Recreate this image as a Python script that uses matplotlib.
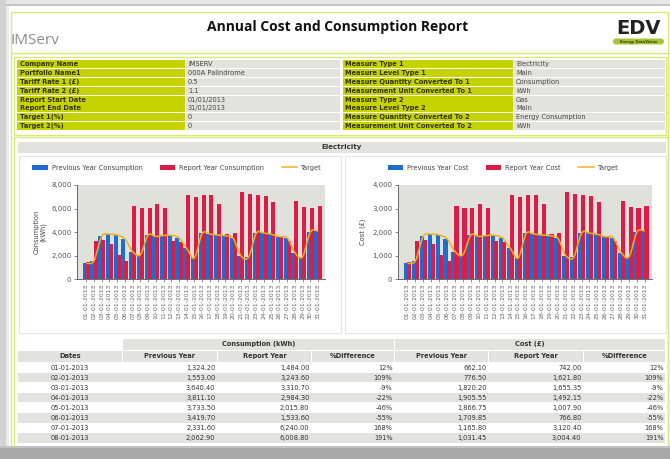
import matplotlib
matplotlib.use("Agg")
import matplotlib.pyplot as plt
from matplotlib.patches import Rectangle, FancyBboxPatch, PathPatch
from matplotlib.path import Path
from matplotlib.ticker import FuncFormatter
import numpy as np

W, H = 670, 459

# ---- report data ----
info_left_labels = ["Company Name", "Portfolio Name1", "Tariff Rate 1 (£)", "Tariff Rate 2 (£)",
                    "Report Start Date", "Report End Date", "Target 1(%)", "Target 2(%)"]
info_left_values = ["IMSERV", "000A Palindrome", "0.5", "1.1",
                    "01/01/2013", "31/01/2013", "0", "0"]
info_right_labels = ["Measure Type 1", "Measure Level Type 1", "Measure Quantity Converted To 1",
                     "Measurement Unit Converted To 1", "Measure Type 2", "Measure Level Type 2",
                     "Measure Quantity Converted To 2", "Measurement Unit Converted To 2"]
info_right_values = ["Electricity", "Main", "Consumption", "kWh",
                     "Gas", "Main", "Energy Consumption", "kWh"]

dates = ["%02d-01-2013" % d for d in range(1, 32)]
prev_cons = [1324.2, 1553.0, 3640.4, 3811.1, 3733.5, 3419.7, 2331.6, 2062.9, 3730, 3620,
             3700, 3720, 3500, 2600, 1800, 3880, 3820, 3740, 3680, 3480,
             2000, 1850, 3900, 3900, 3800, 3600, 3520, 2250, 1900, 4000, 4080]
rep_cons = [1484.0, 3243.6, 3310.7, 2984.3, 2015.8, 1533.6, 6240.0, 6008.8, 6030, 6380,
            6060, 3230, 3150, 7120, 6980, 7180, 7110, 6420, 3800, 3880,
            7440, 7250, 7150, 7050, 6580, 3580, 3200, 6620, 6170, 6080, 6230]
target_cons = prev_cons

prev_cost = [662.10, 776.50, 1820.20, 1905.55, 1866.75, 1709.85, 1165.80, 1031.45, 1865, 1810,
             1850, 1860, 1750, 1300, 900, 1940, 1910, 1870, 1840, 1740,
             1000, 925, 1950, 1950, 1900, 1800, 1760, 1125, 950, 2000, 2040]
rep_cost = [742.00, 1621.80, 1655.35, 1492.15, 1007.90, 766.80, 3120.40, 3004.40, 3015, 3190,
            3030, 1615, 1575, 3560, 3490, 3590, 3555, 3210, 1900, 1940,
            3720, 3625, 3575, 3525, 3290, 1790, 1600, 3310, 3085, 3040, 3115]
target_cost = prev_cost

n_table_rows = 8

BLUE = "#1b6dcf"
RED = "#dc1c47"
ORANGE = "#f2b11c"
GREEN = "#c6d300"
LINE_GREEN = "#dbe777"
GREY_CELL = "#e2e2de"
PLOT_BG = "#e1e1dc"


def frect(x0, y0, x1, y1):
    return [x0 / W, 1 - y1 / H, (x1 - x0) / W, (y1 - y0) / H]


fig = plt.figure(figsize=(W / 100, H / 100), dpi=100)
fig.patch.set_facecolor("white")
bg = fig.add_axes([0, 0, 1, 1], zorder=-1)
bg.set_xlim(0, W)
bg.set_ylim(H, 0)
bg.axis("off")


def box(x0, y0, x1, y1, fc, ec="none", lw=0, z=1):
    bg.add_patch(Rectangle((x0, y0), x1 - x0, y1 - y0, facecolor=fc, edgecolor=ec, lw=lw, zorder=z))


# page edges / shadow
box(0, 0, W, 5, "#e6e6e6")
box(0, 4, W, 6, "#c4c4c4")
box(0, 0, 6, H, "#d2d2d2")
box(6, 6, 9, H, "#ebebeb")

# green frames
box(10.5, 12, 667.5, H + 5, "none", LINE_GREEN, 1)
box(13.5, 56.5, 665.5, 135, "none", LINE_GREEN, 1)
box(13.5, 137, 667.5, H + 5, "none", LINE_GREEN, 1)
bg.plot([10.5, 667.5], [53, 53], color=LINE_GREEN, lw=1)

# header
bg.text(11, 40, "IMServ", fontsize=11, color="#8c8c8c", family="Open Sans", va="center", ha="left")
bg.text(338, 27, "Annual Cost and Consumption Report", fontsize=10, fontweight="bold",
        color="#111111", family="Open Sans", ha="center", va="center")
bg.text(638, 28, "EDV", fontsize=14, fontweight="bold", color="#222222", ha="center", va="center",
        family="DejaVu Sans")
bg.add_patch(FancyBboxPatch((613, 38.5), 51, 6, boxstyle="round,pad=0,rounding_size=3",
                            facecolor="#a9c43c", edgecolor="none"))
bg.text(638.5, 41.5, "Energy DataVision", fontsize=2.6, fontweight="bold", color="#334400",
        ha="center", va="center")

# info tables
row_h = (131 - 60) / 8
for i in range(8):
    y0 = 60 + i * row_h
    y1 = y0 + row_h - 0.8
    box(17, y0, 185, y1, GREEN)
    box(185.8, y0, 340, y1, GREY_CELL)
    box(343, y0, 513, y1, GREEN)
    box(513.8, y0, 665, y1, GREY_CELL)
    yc = (y0 + y1) / 2
    bg.text(20, yc, info_left_labels[i], fontsize=4.8, fontweight="bold", color="#333300", va="center")
    bg.text(188, yc, info_left_values[i], fontsize=4.8, color="#444444", va="center")
    bg.text(345, yc, info_right_labels[i], fontsize=4.8, fontweight="bold", color="#333300", va="center")
    bg.text(516, yc, info_right_values[i], fontsize=4.8, color="#444444", va="center")

# section bar
box(18, 142, 666, 153, GREY_CELL)
bg.text(342, 147.5, "Electricity", fontsize=5, fontweight="bold", color="#333333", ha="center", va="center")

# chart panels
box(18.5, 155.5, 340.5, 333, "white", "#e4e4e4", 0.8)
box(344.5, 155.5, 665.5, 333, "white", "#e4e4e4", 0.8)


def smooth_line(ax, xs, ys, color):
    pts = np.column_stack([xs, ys]).astype(float)
    verts = [pts[0]]
    codes = [Path.MOVETO]
    for i in range(len(pts) - 1):
        p0 = pts[i - 1] if i > 0 else pts[i]
        p1 = pts[i]
        p2 = pts[i + 1]
        p3 = pts[i + 2] if i + 2 < len(pts) else pts[i + 1]
        verts += [p1 + (p2 - p0) / 6, p2 - (p3 - p1) / 6, p2]
        codes += [Path.CURVE4] * 3
    ax.add_patch(PathPatch(Path(verts, codes), fill=False, edgecolor=color, lw=1.1, zorder=4))
    # invisible handle for legend
    return ax.plot([], [], color=color, lw=1.1)[0]


def draw_chart(rect, prev, rep, target, ymax, ystep, labels, ylabel, ylabel_x, legend_x):
    ax = fig.add_axes(frect(*rect))
    ax.set_facecolor(PLOT_BG)
    x = np.arange(len(prev))
    b1 = ax.bar(x - 0.2, prev, width=0.52, color=BLUE, zorder=2)
    b2 = ax.bar(x + 0.2, rep, width=0.52, color=RED, zorder=3)
    ln = smooth_line(ax, x, target, ORANGE)
    ax.set_xlim(-1.2, len(prev) - 0.1)
    ax.set_ylim(0, ymax)
    ax.set_yticks(np.arange(0, ymax + 1, ystep))
    ax.yaxis.set_major_formatter(FuncFormatter(lambda v, p: f"{v:,.0f}"))
    ax.set_xticks(x)
    ax.set_xticklabels(dates, rotation=90, fontsize=4.4, color="#444444")
    ax.tick_params(axis="y", labelsize=5, colors="#555555", length=2.5, width=0.5, pad=1.5)
    ax.tick_params(axis="x", length=2, width=0.5, pad=1.5, colors="#666666")
    for s in ["top", "right"]:
        ax.spines[s].set_visible(False)
    for s in ["left", "bottom"]:
        ax.spines[s].set_color("#555555")
        ax.spines[s].set_linewidth(0.6)
    bg.text(ylabel_x, 232, ylabel, rotation=90, fontsize=4.8, color="#444444",
            ha="center", va="center", multialignment="center")
    fig.legend([b1, b2, ln], labels, loc="center", ncol=3, frameon=False,
               bbox_to_anchor=(legend_x / W, 1 - 168 / H), fontsize=4.8,
               handlelength=2.3, handleheight=0.9, columnspacing=2.6, handletextpad=0.6,
               labelcolor="#444444")
    return ax


draw_chart((77, 185, 325, 279), prev_cons, rep_cons, target_cons, 8000, 2000,
           ["Previous Year Consumption", "Report Year Consumption", "Target"],
           "Consumption\n(kWh)", 40, 177)
draw_chart((398, 185, 652, 279), prev_cost, rep_cost, target_cost, 4000, 1000,
           ["Previous Year Cost", "Report Year Cost", "Target"],
           "Cost (£)", 363, 503)

# bottom table
cols = [(18, 122), (123, 217), (218, 311), (312, 394), (395, 488), (489, 583), (584, 665)]
box(123, 338.5, 394, 349.5, GREY_CELL)
box(395, 338.5, 665, 349.5, GREY_CELL)
bg.text((123 + 394) / 2, 344, "Consumption (kWh)", fontsize=4.8, fontweight="bold", color="#333333",
        ha="center", va="center")
bg.text((395 + 665) / 2, 344, "Cost (£)", fontsize=4.8, fontweight="bold", color="#333333",
        ha="center", va="center")
headers = ["Dates", "Previous Year", "Report Year", "%Difference",
           "Previous Year", "Report Year", "%Difference"]
for (c0, c1), h in zip(cols, headers):
    box(c0, 350.5, c1, 362, GREY_CELL)
    bg.text((c0 + c1) / 2, 356.3, h, fontsize=4.8, fontweight="bold", color="#333333",
            ha="center", va="center")

rh = 10.1
for i in range(n_table_rows):
    y0 = 362.5 + i * rh
    if i % 2 == 1:
        box(18, y0, 665, y0 + rh - 0.6, GREY_CELL)
    yc = y0 + rh / 2
    pc = (rep_cons[i] - prev_cons[i]) / prev_cons[i] * 100
    pk = (rep_cost[i] - prev_cost[i]) / prev_cost[i] * 100
    cells = [f"{prev_cons[i]:,.2f}", f"{rep_cons[i]:,.2f}", f"{pc:.0f}%",
             f"{prev_cost[i]:,.2f}", f"{rep_cost[i]:,.2f}", f"{pk:.0f}%"]
    bg.text(70, yc, dates[i], fontsize=4.8, color="#333333", ha="center", va="center")
    for (c0, c1), t in zip(cols[1:], cells):
        bg.text(c1 - 1.5, yc, t, fontsize=4.8, color="#333333", ha="right", va="center")

# bottom shadow band
box(0, 446, W, H, "#a8a8a8", z=5)
box(0, 446, W, 448, "#c2c2c2", z=5)

fig.savefig("out.png", dpi=100)
